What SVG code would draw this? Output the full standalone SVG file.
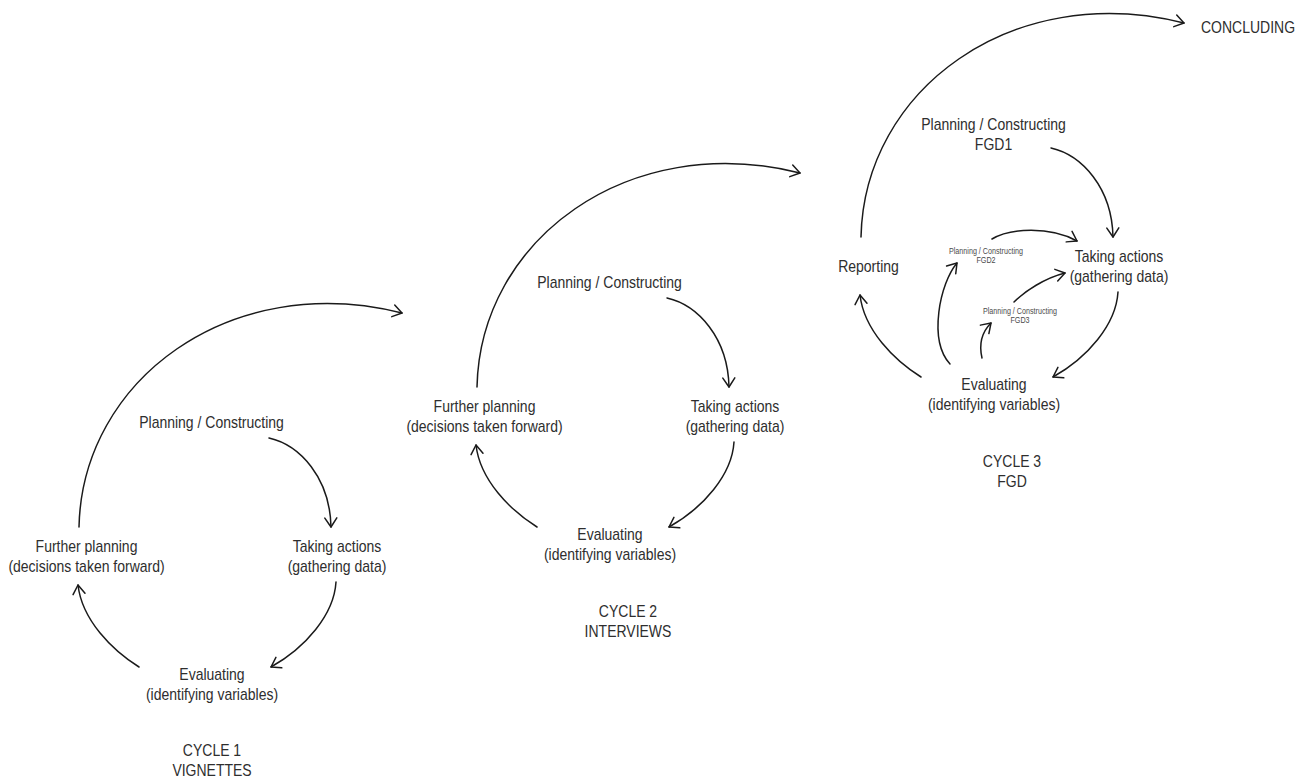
<svg xmlns="http://www.w3.org/2000/svg" width="1306" height="780" viewBox="0 0 1306 780">
  <style>
    .lbl { font-family: "Liberation Sans", Arial, sans-serif; font-size: 16px; fill: #2e2e2e; text-anchor: middle; }
    .sm { font-size: 8.2px; fill: #4a4a4a; }
    .link { fill: none; stroke: #1a1a1a; stroke-width: 1.5; stroke-linecap: round; marker-end: url(#arr); }
  </style>
  <defs>
    <marker id="arr" viewBox="-11 -8 13 16" refX="0" refY="0" markerWidth="13" markerHeight="16" markerUnits="userSpaceOnUse" orient="auto">
      <path d="M-9,-6 L0,0 L-9,6" fill="none" stroke="#1a1a1a" stroke-width="1.5" stroke-linecap="round" stroke-linejoin="round"/>
    </marker>
  </defs>
  <rect width="1306" height="780" fill="#fff"/>

  <!-- Connectors -->
  <g id="connectors">
    <!-- cycle 1 -->
    <path class="link" d="M269,438 C300,445 330,478 331,527"/>
    <path class="link" d="M336,582 C334,615 305,648 271,667"/>
    <path class="link" d="M139,667 C112,650 82,620 78,585"/>
    <path class="link" d="M79,527 C82,380 230,270 402,313"/>
    <!-- cycle 2 -->
    <path class="link" d="M667,298 C698,305 728,338 729,387"/>
    <path class="link" d="M734,442 C732,475 703,508 669,527"/>
    <path class="link" d="M537,527 C510,510 480,480 476,445"/>
    <path class="link" d="M477,387 C480,240 628,130 800,173"/>
    <!-- cycle 3 -->
    <path class="link" d="M1051,148 C1082,155 1112,188 1113,237"/>
    <path class="link" d="M1118,292 C1116,325 1087,358 1053,377"/>
    <path class="link" d="M921,377 C894,360 864,330 860,295"/>
    <path class="link" d="M861,237 C864,90 1012,-20 1184,23"/>
    <!-- cycle 3 inner loops -->
    <path class="link" d="M992,239 C1010,228 1050,226 1077,241"/>
    <path class="link" d="M950,364 C928,340 940,283 957,263"/>
    <path class="link" d="M982,358 C979,345 981,333 991,323"/>
    <path class="link" d="M1014,302 C1025,291 1045,278 1065,273"/>
  </g>

  <!-- Cycle 1 -->
  <g id="c1-planning"><text class="lbl" transform="translate(211.5 428) scale(0.875 1)">Planning / Constructing</text></g>
  <g id="c1-taking"><text class="lbl" transform="translate(337 551.5) scale(0.875 1)"><tspan x="0" y="0">Taking actions</tspan><tspan x="0" y="20.5">(gathering data)</tspan></text></g>
  <g id="c1-evaluating"><text class="lbl" transform="translate(212 680) scale(0.875 1)"><tspan x="0" y="0">Evaluating</tspan><tspan x="0" y="20.5">(identifying variables)</tspan></text></g>
  <g id="c1-further"><text class="lbl" transform="translate(86.5 551.5) scale(0.875 1)"><tspan x="0" y="0">Further planning</tspan><tspan x="0" y="20.5">(decisions taken forward)</tspan></text></g>
  <g id="c1-title"><text class="lbl" transform="translate(212 756) scale(0.875 1)"><tspan x="0" y="0">CYCLE 1</tspan><tspan x="0" y="20.5">VIGNETTES</tspan></text></g>

  <!-- Cycle 2 -->
  <g id="c2-planning"><text class="lbl" transform="translate(609.5 288) scale(0.875 1)">Planning / Constructing</text></g>
  <g id="c2-taking"><text class="lbl" transform="translate(735 411.5) scale(0.875 1)"><tspan x="0" y="0">Taking actions</tspan><tspan x="0" y="20.5">(gathering data)</tspan></text></g>
  <g id="c2-evaluating"><text class="lbl" transform="translate(610 540) scale(0.875 1)"><tspan x="0" y="0">Evaluating</tspan><tspan x="0" y="20.5">(identifying variables)</tspan></text></g>
  <g id="c2-further"><text class="lbl" transform="translate(484.5 411.5) scale(0.875 1)"><tspan x="0" y="0">Further planning</tspan><tspan x="0" y="20.5">(decisions taken forward)</tspan></text></g>
  <g id="c2-title"><text class="lbl" transform="translate(628 617) scale(0.875 1)"><tspan x="0" y="0">CYCLE 2</tspan><tspan x="0" y="20.5">INTERVIEWS</tspan></text></g>

  <!-- Cycle 3 -->
  <g id="c3-planning"><text class="lbl" transform="translate(993.5 130) scale(0.875 1)"><tspan x="0" y="0">Planning / Constructing</tspan><tspan x="0" y="20.5">FGD1</tspan></text></g>
  <g id="c3-planning-fgd2"><text class="lbl sm" transform="translate(986 253.5) scale(0.875 1)"><tspan x="0" y="0">Planning / Constructing</tspan><tspan x="0" y="10">FGD2</tspan></text></g>
  <g id="c3-planning-fgd3"><text class="lbl sm" transform="translate(1020 313.5) scale(0.875 1)"><tspan x="0" y="0">Planning / Constructing</tspan><tspan x="0" y="10">FGD3</tspan></text></g>
  <g id="c3-taking"><text class="lbl" transform="translate(1119 261.5) scale(0.875 1)"><tspan x="0" y="0">Taking actions</tspan><tspan x="0" y="20.5">(gathering data)</tspan></text></g>
  <g id="c3-evaluating"><text class="lbl" transform="translate(994 390) scale(0.875 1)"><tspan x="0" y="0">Evaluating</tspan><tspan x="0" y="20.5">(identifying variables)</tspan></text></g>
  <g id="c3-reporting"><text class="lbl" transform="translate(868.5 271.5) scale(0.875 1)">Reporting</text></g>
  <g id="c3-title"><text class="lbl" transform="translate(1012 467) scale(0.875 1)"><tspan x="0" y="0">CYCLE 3</tspan><tspan x="0" y="20.5">FGD</tspan></text></g>

  <!-- Final stage -->
  <g id="concluding"><text class="lbl" transform="translate(1248 32.5) scale(0.875 1)">CONCLUDING</text></g>
</svg>
